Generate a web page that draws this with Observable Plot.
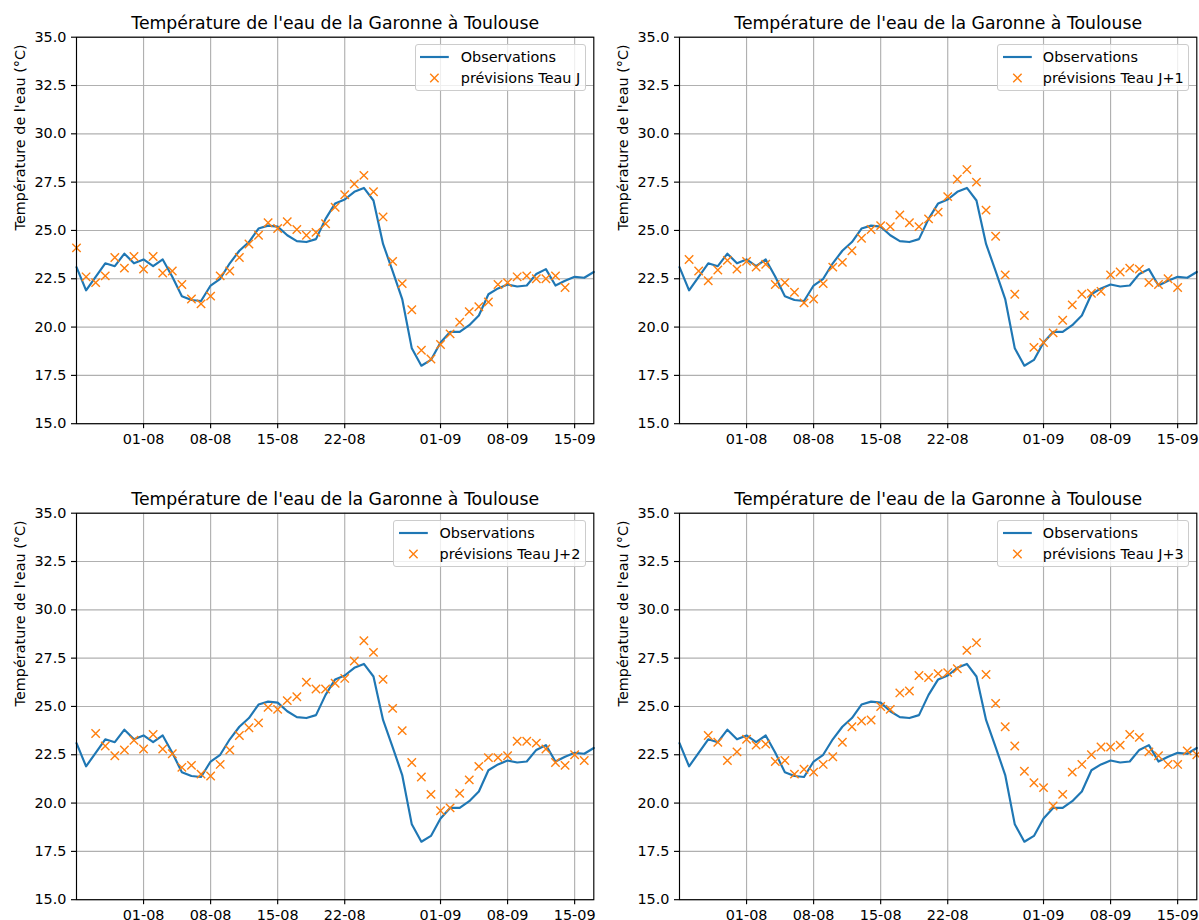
<!DOCTYPE html>
<html>
<head>
<meta charset="utf-8">
<script src="https://cdn.jsdelivr.net/npm/d3@7"></script>
<script src="https://cdn.jsdelivr.net/npm/@observablehq/plot@0.6"></script>
<style>
  body { margin: 0; background: #fff; }
  #fig { position: relative; width: 1199px; height: 920px; overflow: hidden; font-family: "DejaVu Sans", sans-serif; }
  .panel { position: absolute; width: 600px; height: 464px; }
  .panel svg { display: block; overflow: visible; }
  .legend { position: absolute; box-sizing: border-box; border: 1px solid #cccccc; border-radius: 3px;
            background: rgba(255,255,255,0.8); padding: 4.8px 4.8px; font-size: 14.4px; color: #000; }
  .legend .row { display: flex; align-items: center; height: 14px; line-height: 14px; white-space: nowrap; }
  .legend .row + .row { margin-top: 7.2px; }
  .legend svg { margin-right: 11.5px; flex: none; overflow: visible; }
</style>
</head>
<body>
<div id="fig"></div>
<script>
// Daily water temperature of the Garonne in Toulouse (°C), from 25 July to 17 September
const startDate = "2023-07-25";
const endDate = "2023-09-17";

const observations = [
  23.1, 21.9, 22.6, 23.3, 23.15, 23.8, 23.3, 23.5, 23.15, 23.5,
  22.6, 21.6, 21.4, 21.35, 22.15, 22.5, 23.3, 23.95, 24.4, 25.1,
  25.25, 25.2, 24.75, 24.45, 24.4, 24.55, 25.6, 26.4, 26.6, 27.0,
  27.2, 26.55, 24.3, 22.9, 21.45, 18.9, 18.0, 18.3, 19.2, 19.75,
  19.75, 20.1, 20.6, 21.7, 22.0, 22.2, 22.1, 22.15, 22.75, 23.0,
  22.15, 22.4, 22.6, 22.55, 22.85
];

// Forecasts by lead time; each series begins `lead` days after the first observation
const forecastJ = [
  24.1, 22.6, 22.3, 22.65, 23.6, 23.05, 23.65, 23.0, 23.65, 22.8,
  22.9, 22.2, 21.45, 21.2, 21.6, 22.65, 22.9, 23.6, 24.3, 24.75,
  25.4, 25.1, 25.45, 25.05, 24.75, 24.9, 25.35, 26.2, 26.85, 27.4,
  27.85, 27.0, 25.7, 23.4, 22.25, 20.9, 18.8, 18.35, 19.1, 19.65,
  20.25, 20.8, 21.05, 21.3, 22.2, 22.3, 22.6, 22.65, 22.5, 22.5,
  22.65, 22.05
];
const forecastJ1 = [
  23.5, 22.9, 22.4, 22.95, 23.45, 23.0, 23.4, 23.1, 23.25, 22.2,
  22.3, 21.8, 21.25, 21.45, 22.25, 23.1, 23.35, 23.95, 24.6, 25.05,
  25.25, 25.2, 25.8, 25.4, 25.2, 25.6, 25.95, 26.75, 27.65, 28.15,
  27.5, 26.05, 24.7, 22.7, 21.7, 20.6, 18.95, 19.2, 19.7, 20.35,
  21.15, 21.7, 21.75, 21.85, 22.7, 22.85, 23.05, 23.0, 22.3, 22.2,
  22.5, 22.05
];
const forecastJ2 = [
  23.6, 22.95, 22.45, 22.75, 23.25, 22.8, 23.55, 22.8, 22.55, 21.85,
  21.95, 21.5, 21.4, 22.0, 22.75, 23.5, 23.9, 24.15, 24.95, 24.85,
  25.3, 25.5, 26.25, 25.9, 25.9, 26.2, 26.45, 27.35, 28.4, 27.8,
  26.4, 24.9, 23.75, 22.1, 21.35, 20.45, 19.6, 19.75, 20.5, 21.2,
  21.9, 22.35, 22.35, 22.45, 23.2, 23.2, 23.1, 22.8, 22.1, 21.95,
  22.5, 22.2
];
const forecastJ3 = [
  23.5, 23.15, 22.2, 22.65, 23.3, 23.0, 23.05, 22.15, 22.2, 21.5,
  21.75, 21.6, 22.0, 22.4, 23.15, 23.95, 24.25, 24.3, 25.0, 24.85,
  25.7, 25.8, 26.6, 26.5, 26.7, 26.75, 26.95, 27.9, 28.3, 26.65,
  25.15, 23.95, 22.95, 21.65, 21.05, 20.8, 19.85, 20.45, 21.6, 22.0,
  22.5, 22.9, 22.9, 23.0, 23.55, 23.4, 22.65, 22.45, 22.0, 22.0,
  22.7, 22.5
];

const leadLabels = ["J", "J+1", "J+2", "J+3"];
const forecasts = [forecastJ, forecastJ1, forecastJ2, forecastJ3];

const xTickLabels = ["2023-08-01", "2023-08-08", "2023-08-15", "2023-08-22", "2023-09-01", "2023-09-08", "2023-09-15"];
const yTickValues = [15, 17.5, 20, 22.5, 25, 27.5, 30, 32.5, 35];

const titleText = "Température de l'eau de la Garonne à Toulouse";
const yLabelText = "Température de l'eau (°C)";
const obsName = "Observations";
const forecastPrefix = "prévisions Teau ";

const blue = "#1f77b4";
const orange = "#ff7f0e";

const days = d3.utcDay.range(new Date(startDate), d3.utcDay.offset(new Date(endDate), 1));
const obsData = observations.map((v, i) => ({date: days[i], value: v}));
const xTicks = xTickLabels.map(s => new Date(s));

const fig = document.getElementById("fig");
const positions = [[0, 0], [603.3, 0], [0, 476], [603.3, 476]];

const W = 600, H = 464;
const mL = 76, mR = 6.7, mT = 36.7, mB = H - 36.7 - 386.5;

forecasts.forEach((series, lead) => {
  const fcData = series.map((v, i) => ({date: days[i + lead], value: v}));

  const chart = Plot.plot({
    width: W,
    height: H,
    marginLeft: mL,
    marginRight: mR,
    marginTop: mT,
    marginBottom: mB,
    style: {fontFamily: "DejaVu Sans", fontSize: "14.4px", color: "black", background: "transparent", overflow: "visible"},
    x: {type: "utc", domain: [days[0], days[days.length - 1]]},
    y: {domain: [15, 35]},
    marks: [
      Plot.gridX(xTicks, {stroke: "#b0b0b0", strokeOpacity: 1, strokeWidth: 1.15}),
      Plot.gridY(yTickValues, {stroke: "#b0b0b0", strokeOpacity: 1, strokeWidth: 1.15}),
      Plot.line(obsData, {x: "date", y: "value", stroke: blue, strokeWidth: 2.16, strokeLinejoin: "round"}),
      Plot.dot(fcData, {x: "date", y: "value", symbol: "times", r: 3.9, stroke: orange, strokeWidth: 1.4}),
      Plot.frame({stroke: "black", strokeWidth: 1.15}),
      Plot.axisX(xTicks, {tickFormat: d3.utcFormat("%d-%m"), tickSize: 5, tickPadding: 5, strokeWidth: 1.15, label: null}),
      Plot.axisY(yTickValues, {tickFormat: d3.format(".1f"), tickSize: 5, tickPadding: 5, strokeWidth: 1.15, label: null}),
      Plot.text([titleText], {frameAnchor: "top", dy: -8.4, lineAnchor: "bottom", fontSize: 17.3, text: d => d}),
      Plot.text([yLabelText], {frameAnchor: "left", rotate: -90, dx: -56.5, text: d => d})
    ]
  });

  const panel = document.createElement("div");
  panel.className = "panel";
  panel.style.left = positions[lead][0] + "px";
  panel.style.top = positions[lead][1] + "px";
  panel.appendChild(chart);

  // Legend box in the upper right corner of the axes
  const legend = document.createElement("div");
  legend.className = "legend";
  legend.style.right = (mR + 7.2) + "px";
  legend.style.top = (mT + 7.4) + "px";
  legend.innerHTML =
    `<div class="row"><svg width="28.8" height="14"><line x1="0" x2="28.8" y1="7" y2="7" stroke="${blue}" stroke-width="2.16"/></svg><span>${obsName}</span></div>` +
    `<div class="row"><svg width="28.8" height="14"><path d="M10.2,2.8L18.6,11.2M10.2,11.2L18.6,2.8" stroke="${orange}" stroke-width="1.4" fill="none"/></svg><span>${forecastPrefix}${leadLabels[lead]}</span></div>`;
  panel.appendChild(legend);

  fig.appendChild(panel);
});
</script>
</body>
</html>
